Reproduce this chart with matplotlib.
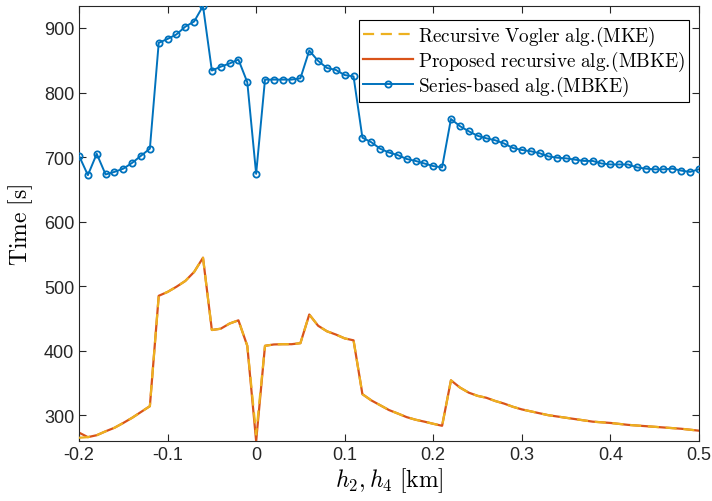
import numpy as np
import matplotlib
matplotlib.use('Agg')
import matplotlib.pyplot as plt
from matplotlib.ticker import FuncFormatter

plt.rcParams['mathtext.fontset'] = 'cm'
plt.rcParams['font.family'] = ['Liberation Sans', 'DejaVu Sans']

h = np.round(np.arange(-0.2, 0.5001, 0.01), 2)

# series-based alg. (MBKE)
t_series = [702, 672, 705, 673, 677, 682, 691, 702, 713, 877,
            883, 890, 902, 910, 934, 834, 840, 845, 851, 816,
            674, 820, 820, 820, 820, 822, 865, 849, 838, 835,
            827, 825, 730, 723, 713, 707, 703, 697, 694, 690,
            686, 684, 759, 748, 740, 733, 729, 726, 721, 714,
            711, 709, 706, 701, 699, 698, 696, 694, 694, 690,
            688.5, 688.5, 688.5, 684, 682, 681, 681, 682, 679, 677,
            681]

# proposed recursive alg. (MBKE)
t_proposed = [273, 266, 269, 275, 280.5, 288, 296, 305, 314, 485,
              491, 499, 508, 522, 544, 432, 434, 442, 447, 407.5,
              260, 407.5, 409.6, 410, 410, 411.6, 456, 438.6, 430, 425,
              419, 416, 332.6, 323, 315.5, 308, 302.6, 297, 293, 290,
              286.7, 283.6, 354, 343, 335, 330, 327, 322, 318, 313,
              309, 306, 303, 300, 298, 296, 294, 292, 290, 289,
              288, 286.5, 285, 284, 283, 282, 281, 280, 279, 277.5,
              276]

# recursive Vogler alg. (MKE)
t_vogler = list(t_proposed)
t_vogler[0] = 265
t_vogler[20] = 270

fig = plt.figure(figsize=(7.12, 5.02), dpi=100)
ax = fig.add_axes([0.111, 0.1195, 0.8706, 0.8665])

ax.plot(h, t_proposed, color='#D95319', lw=1.6, zorder=2,
        label=r'$\mathrm{Proposed\ recursive\ alg.\!(MBKE)}$')
ax.plot(h, t_vogler, color='#EDB120', lw=1.6, ls=(0, (5, 3)), zorder=3,
        label=r'$\mathrm{Recursive\ Vogler\ alg.\!(MKE)}$')
ax.plot(h, t_series, color='#0072BD', lw=1.4, marker='o', ms=4.5,
        mfc='none', mew=1.3, zorder=4,
        label=r'$\mathrm{Series}$-$\mathrm{based\ alg.\!(MBKE)}$')

allv = t_series + t_proposed + t_vogler
ax.set_xlim(-0.2, 0.5)
ax.set_ylim(min(allv), max(allv))
ax.set_xticks(np.arange(-0.2, 0.51, 0.1))
ax.set_yticks(np.arange(300, 901, 100))
ax.xaxis.set_major_formatter(FuncFormatter(lambda v, p: '0' if abs(v) < 1e-9 else f'{v:.1f}'))
ax.tick_params(direction='in', top=True, right=True, labelsize=13,
               colors='#262626', length=5, width=0.8)
for s in ax.spines.values():
    s.set_color('#262626')
    s.set_linewidth(0.8)

ax.set_xlabel(r'$h_2, h_4\ \mathrm{[km]}$', fontsize=17, labelpad=2)
ax.set_ylabel(r'$\mathrm{Time\ [s]}$', fontsize=17, labelpad=6)

handles, labels = ax.get_legend_handles_labels()
order = [1, 0, 2]
leg = ax.legend([handles[i] for i in order], [labels[i] for i in order],
                loc='upper right', bbox_to_anchor=(0.984, 0.968),
                fontsize=13.8, fancybox=False, edgecolor='k', framealpha=1,
                borderpad=0.2, labelspacing=0.05, handlelength=2.6,
                handletextpad=0.3, borderaxespad=0)
leg.get_frame().set_linewidth(0.8)

fig.savefig('out.png', dpi=100)
